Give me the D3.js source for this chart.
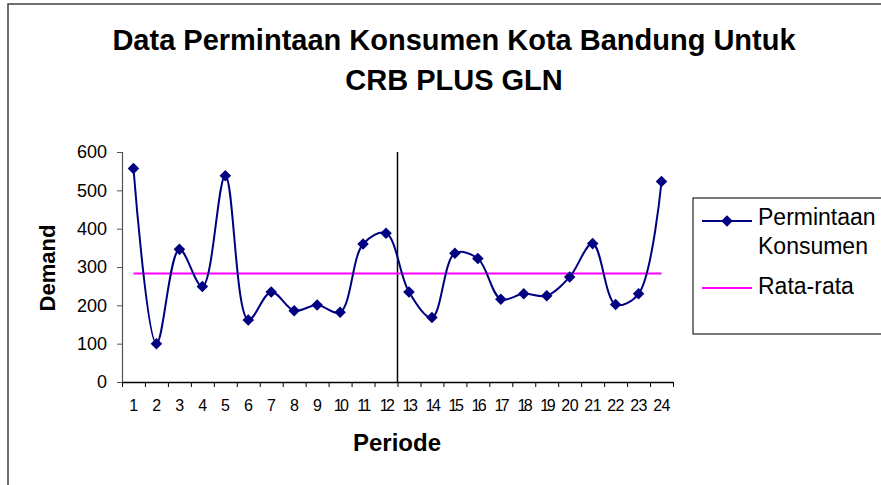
<!DOCTYPE html>
<html>
  <head>
    <script src="https://d3js.org/d3.v7.min.js"></script>
    <style>
      body { margin: 0; background: #fff; }
      text { font-family: "Liberation Sans", Arial, sans-serif; }
    </style>
  </head>
  <body>
    <svg width="881" height="485"></svg>
    <script>
      // data
      var periode = ["1","2","3","4","5","6","7","8","9","10","11","12",
                     "13","14","15","16","17","18","19","20","21","22","23","24"];
      var permintaan = [557, 100, 346, 249, 538, 162, 235, 186, 201, 182, 360, 388,
                        235, 168, 336, 322, 216, 230, 225, 274, 361, 202, 230, 523];
      var rataRata = 283;
      var yTicks = [0, 100, 200, 300, 400, 500, 600];
      var judul = ["Data Permintaan Konsumen Kota Bandung Untuk", "CRB PLUS GLN"];
      var legendLabels = [["Permintaan", "Konsumen"], ["Rata-rata"]];
      var garisPisah = "12"; // vertical line after this period

      var svg = d3.select("svg");

      // outer frame (cut off at right / bottom)
      svg.append("rect")
        .attr("x", 8).attr("y", 4)
        .attr("width", 900).attr("height", 500)
        .style("fill", "none")
        .style("stroke", "#404040")
        .style("stroke-width", 1.5);

      var plotLeft = 122, plotRight = 673, plotTop = 152, plotBottom = 382;

      var x = d3.scaleBand().domain(periode).range([plotLeft, plotRight]).padding(0);
      var xEdge = d3.scaleLinear().domain([0, periode.length]).range([plotLeft, plotRight]);
      var y = d3.scaleLinear().domain([0, 600]).range([plotBottom, plotTop]);

      // title
      svg.selectAll(".judul")
        .data(judul)
        .enter()
        .append("text")
        .attr("class", "judul")
        .attr("x", 454)
        .attr("y", function (d, i) { return 50 + i * 40; })
        .attr("text-anchor", "middle")
        .style("font-weight", "bold")
        .style("font-size", "29px")
        .text(function (d) { return d; });

      // y axis
      var yAxis = svg.append("g")
        .attr("transform", "translate(" + plotLeft + ",0)")
        .call(d3.axisLeft(y).tickValues(yTicks).tickSize(5).tickPadding(10));
      yAxis.select(".domain").style("stroke", "#555").style("stroke-width", 1.2);
      yAxis.selectAll(".tick line").style("stroke", "#555");
      yAxis.selectAll(".tick text")
        .style("font-size", "18px")
        .style("fill", "#000")
        .attr("font-family", null);

      // x axis ticks at category edges
      var xTickAxis = svg.append("g")
        .attr("transform", "translate(0," + plotBottom + ")")
        .call(d3.axisBottom(xEdge).tickValues(d3.range(periode.length + 1))
          .tickSize(5).tickSizeOuter(0).tickFormat(""));
      xTickAxis.select(".domain").style("stroke", "#000").style("stroke-width", 1.5);
      xTickAxis.selectAll(".tick line").style("stroke", "#000");

      // x axis labels at category centres
      var xLabelAxis = svg.append("g")
        .attr("transform", "translate(0," + plotBottom + ")")
        .call(d3.axisBottom(x).tickSize(0).tickPadding(18));
      xLabelAxis.select(".domain").remove();
      xLabelAxis.selectAll(".tick text")
        .style("font-size", "16px")
        .style("fill", "#000")
        .style("letter-spacing", function (d) {
          return d.length == 2 && d[0] == "1" ? "-2.5px" : "-0.5px";
        })
        .attr("font-family", null);

      // axis titles
      svg.append("text")
        .attr("transform", "translate(55,268)rotate(-90)")
        .attr("text-anchor", "middle")
        .style("font-weight", "bold")
        .style("font-size", "22px")
        .text("Demand");

      svg.append("text")
        .attr("x", 397)
        .attr("y", 451)
        .attr("text-anchor", "middle")
        .style("font-weight", "bold")
        .style("font-size", "24px")
        .text("Periode");

      // vertical divider between period 12 and 13
      svg.append("line")
        .attr("x1", x(garisPisah) + x.bandwidth())
        .attr("x2", x(garisPisah) + x.bandwidth())
        .attr("y1", y(600))
        .attr("y2", y(0))
        .style("stroke", "#000")
        .style("stroke-width", 1.5);

      var cx = function (d, i) { return x(periode[i]) + x.bandwidth() / 2; };

      // average line
      svg.append("line")
        .attr("x1", cx(null, 0))
        .attr("x2", cx(null, periode.length - 1))
        .attr("y1", y(rataRata))
        .attr("y2", y(rataRata))
        .style("stroke", "#FF00FF")
        .style("stroke-width", 2);

      // demand line (smoothed)
      var line = d3.line()
        .x(cx)
        .y(function (d) { return y(d); })
        .curve(d3.curveCatmullRom.alpha(0.5));

      svg.append("path")
        .datum(permintaan)
        .attr("d", line)
        .style("fill", "none")
        .style("stroke", "#000080")
        .style("stroke-width", 2);

      var diamond = d3.symbol().type(d3.symbolDiamond2).size(85);

      svg.append("g")
        .selectAll("path")
        .data(permintaan)
        .enter()
        .append("path")
        .attr("d", diamond)
        .attr("transform", function (d, i) {
          return "translate(" + cx(d, i) + "," + y(d) + ")";
        })
        .style("fill", "#000080");

      // legend
      var lg = svg.append("g");
      lg.append("rect")
        .attr("x", 693).attr("y", 198)
        .attr("width", 220).attr("height", 136)
        .style("fill", "#fff")
        .style("stroke", "#222")
        .style("stroke-width", 1.2);

      lg.append("line")
        .attr("x1", 702).attr("x2", 752)
        .attr("y1", 221).attr("y2", 221)
        .style("stroke", "#000080").style("stroke-width", 2);
      lg.append("path")
        .attr("d", diamond)
        .attr("transform", "translate(727,221)")
        .style("fill", "#000080");
      lg.append("text")
        .attr("x", 758).attr("y", 225)
        .style("font-size", "23px")
        .selectAll("tspan")
        .data(legendLabels[0])
        .enter()
        .append("tspan")
        .attr("x", 758)
        .attr("dy", function (d, i) { return i ? 29 : 0; })
        .text(function (d) { return d; });

      lg.append("line")
        .attr("x1", 702).attr("x2", 752)
        .attr("y1", 288).attr("y2", 288)
        .style("stroke", "#FF00FF").style("stroke-width", 2);
      lg.append("text")
        .attr("x", 758).attr("y", 294)
        .style("font-size", "23px")
        .text(legendLabels[1][0]);
    </script>
  </body>
</html>
